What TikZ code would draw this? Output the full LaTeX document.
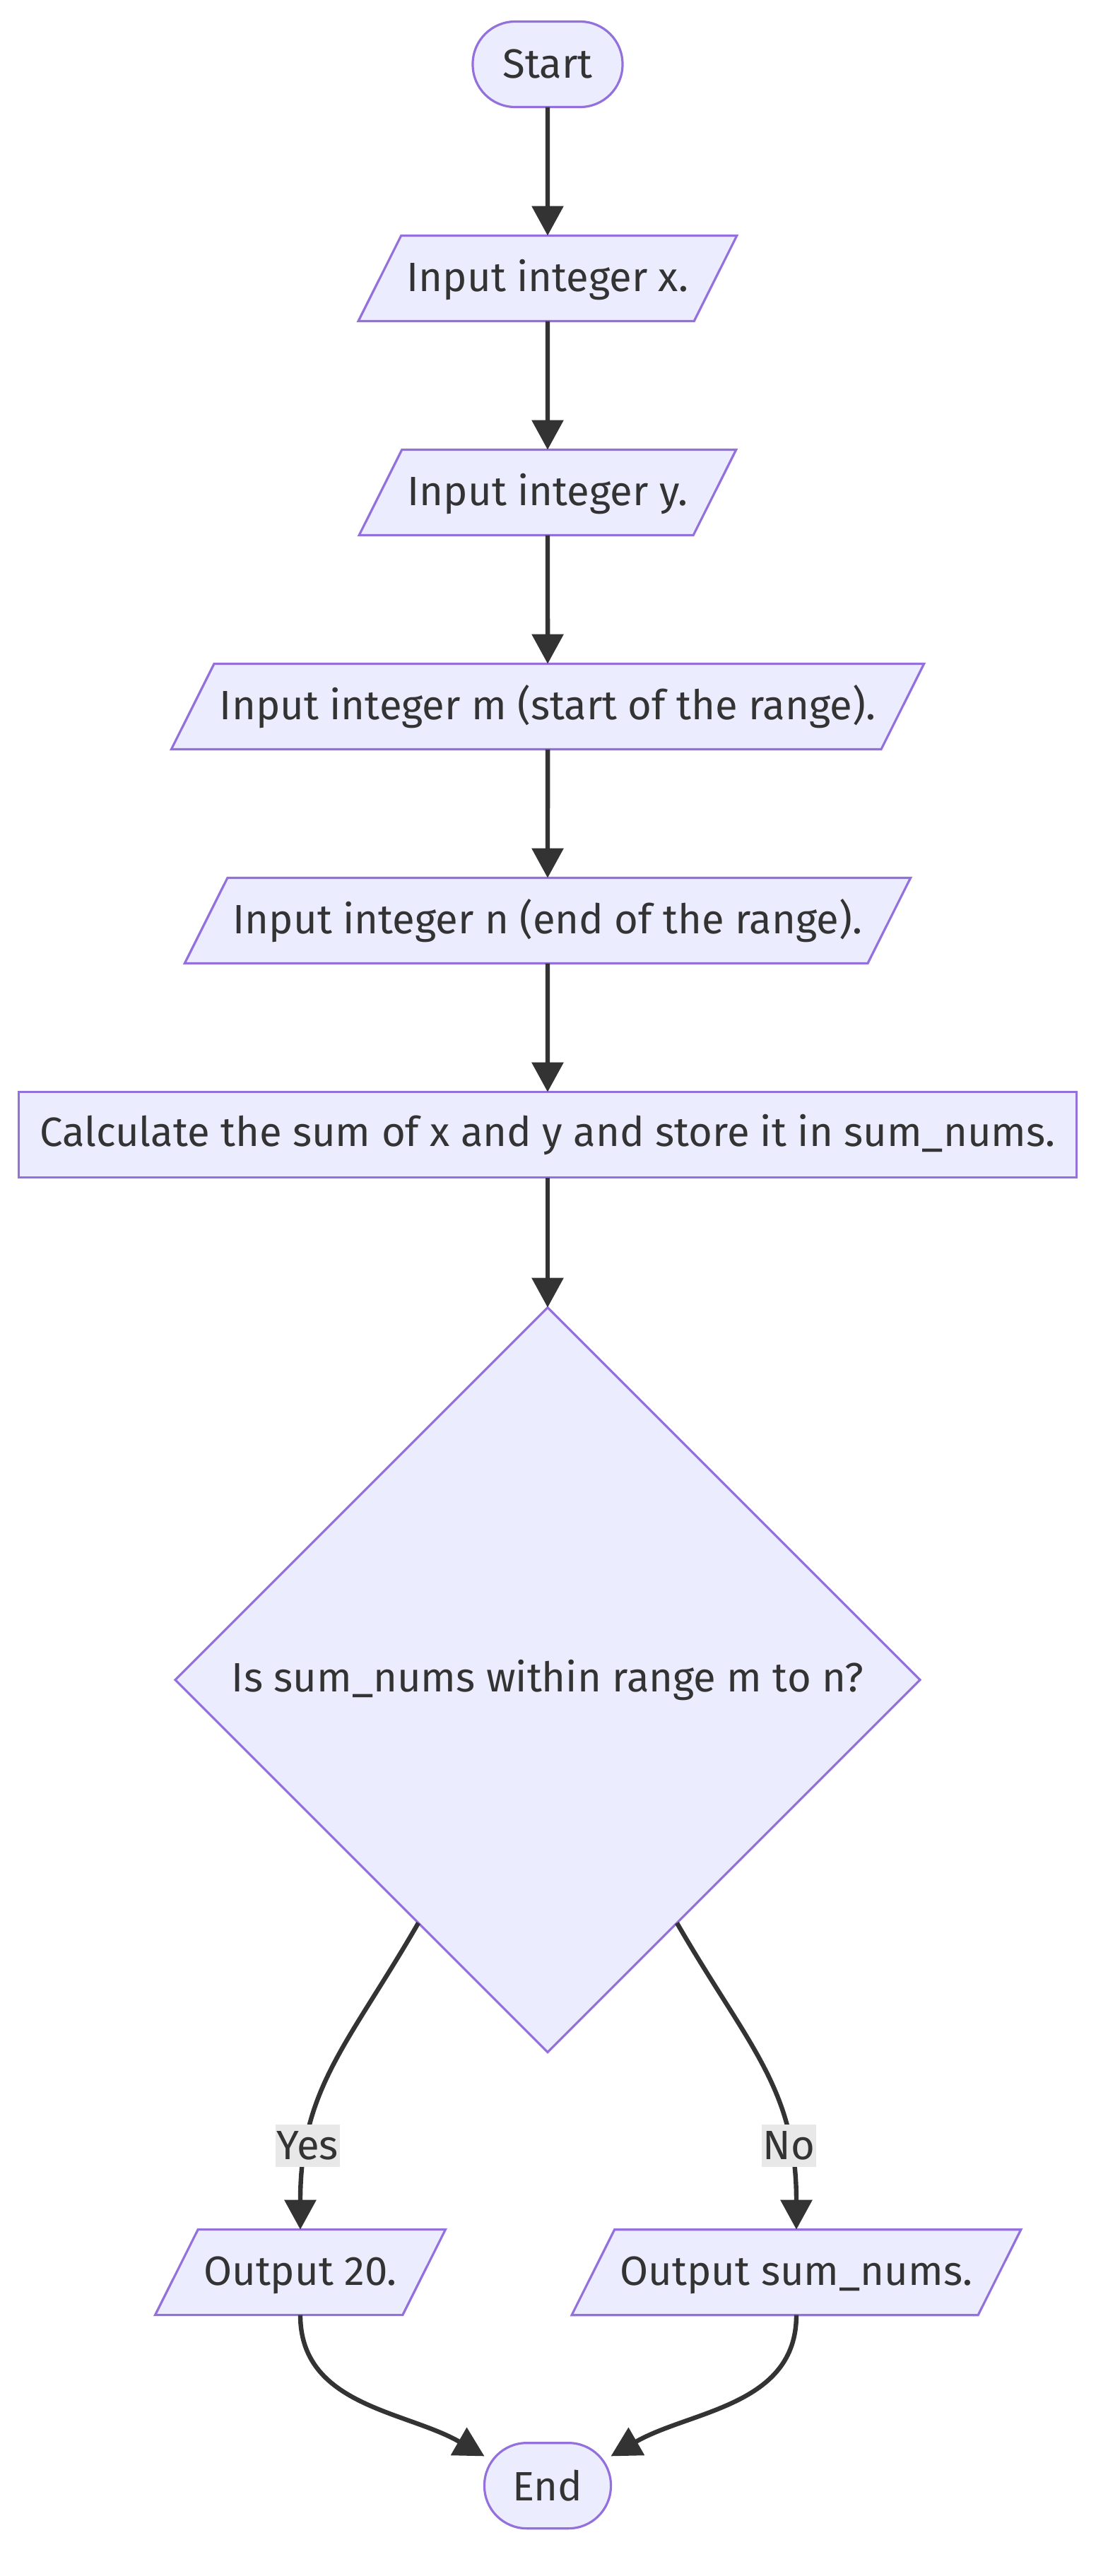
\documentclass[tikz,border=0pt]{standalone}
\usepackage{fontspec}
\setmainfont{Fira Sans}
\usetikzlibrary{arrows.meta, positioning, shapes.geometric}
\definecolor{nodebg}{HTML}{ECECFF}
\definecolor{nodebd}{HTML}{9370DB}
\definecolor{ink}{HTML}{333333}
\definecolor{lblbg}{HTML}{E8E8E8}
\tikzset{
  basebox/.style={
    draw=nodebd, fill=nodebg, line width=1.6pt, text=ink, outer sep=0pt,
    font=\fontsize{29}{34}\selectfont, minimum height=60.5pt, align=center
  },
  termbox/.style={basebox, rounded corners=30pt, inner xsep=0pt},
  iobox/.style={
    basebox, trapezium, trapezium left angle=63.4,
    trapezium right angle=116.6, trapezium stretches=true,
    text height=23pt, text depth=5pt, inner ysep=16.25pt, inner xsep=4pt
  },
  procbox/.style={basebox, rectangle, inner xsep=15pt},
  decbox/.style={basebox, diamond, minimum size=527pt, inner sep=0pt},
  lbl/.style={
    fill=lblbg, text=ink, font=\fontsize{29}{34}\selectfont,
    inner sep=1pt, minimum height=30pt
  },
  arr/.style={-{Triangle[length=21pt, width=22pt]}, line width=3.2pt, draw=ink}
}

\begin{document}
\begin{tikzpicture}[node distance=91pt]
  \useasboundingbox (-387.5pt,45.5pt) rectangle (396.5pt,-1777.5pt);

  \node[termbox, minimum width=106pt] (start) {Start};
  \node[iobox, below=of start] (inx) {Input integer x.};
  \node[iobox, below=of inx] (iny) {Input integer y.};
  \node[iobox, below=of iny] (inm) {Input integer m (start of the range).};
  \node[iobox, below=of inm] (inn) {Input integer n (end of the range).};
  \node[procbox, below=of inn] (calc) {Calculate the sum of x and y and store it in sum\_nums.};
  \node[decbox, below=92pt of calc] (dec) {Is sum\_nums within range m to n?};

  \node[iobox, below=125.5pt of dec, xshift=-175pt] (yes) {Output 20.};
  \node[iobox, below=125.5pt of dec, xshift=176pt] (no) {Output sum\_nums.};
  \coordinate (mid) at (yes.south -| dec.south);
  \node[termbox, minimum width=89.5pt, below=90.5pt of mid] (fin) {End};

  \draw[arr] (start) -- (inx);
  \draw[arr] (inx) -- (iny);
  \draw[arr] (iny) -- (inm);
  \draw[arr] (inm) -- (inn);
  \draw[arr] (inn) -- (calc);
  \draw[arr] (calc) -- (dec);
  \draw[arr] (dec.242) to[out=240, in=90, looseness=1.1] node[lbl, pos=0.77] {Yes} (yes.north);
  \draw[arr] (dec.298) to[out=-60, in=90, looseness=1.1] node[lbl, pos=0.77] {No} (no.north);
  \draw[arr] (yes.south) to[out=-90, in=150] (fin.155);
  \draw[arr] (no.south) to[out=-90, in=30] (fin.25);
\end{tikzpicture}
\end{document}
